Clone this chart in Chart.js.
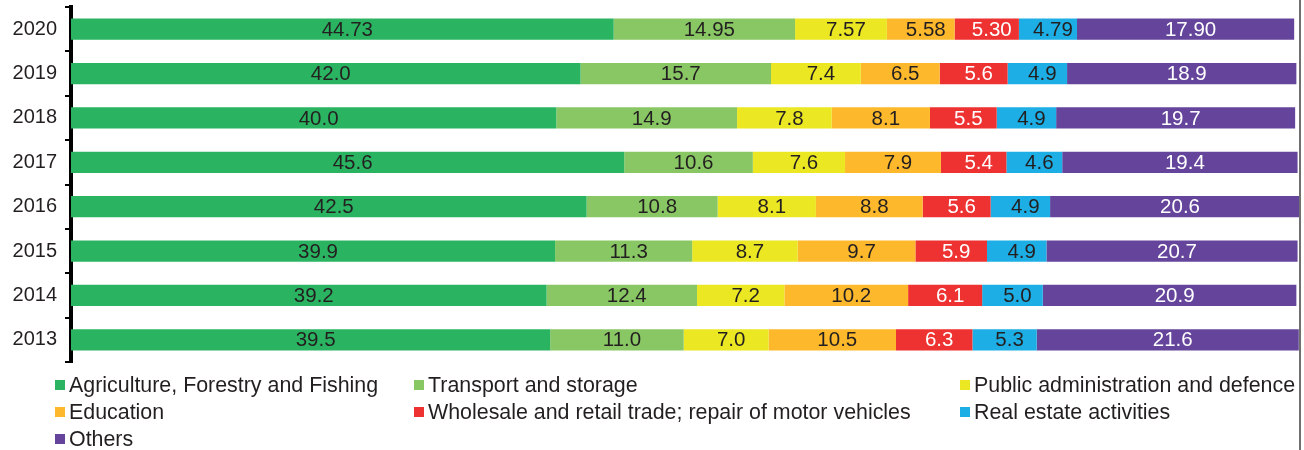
<!DOCTYPE html>
<html>
<head>
<meta charset="utf-8">
<script src="https://cdn.jsdelivr.net/npm/chart.js@4/dist/chart.umd.min.js"></script>
<style>
  html, body { margin: 0; padding: 0; background: #fff; }
  #wrap { position: relative; width: 1304px; height: 450px; overflow: hidden; }
  #c { position: absolute; left: 0; top: 0; }
  #edge { position: absolute; left: 1299px; top: 0; width: 2px; height: 450px; background: #707070; }
  .lg { position: absolute; font-family: "Liberation Sans", Arial, sans-serif; font-size: 21.4px;
        line-height: 27px; color: #231F20; white-space: nowrap; }
  .lg i { position: absolute; left: 0; top: 8.5px; width: 10px; height: 10px; }
  .lg span { position: absolute; left: 14px; top: 0; }
</style>
</head>
<body>
<div id="wrap">
  <canvas id="c" width="1304" height="450"></canvas>
  <div id="edge"></div>
</div>
<script>
// ---- data ----
const years = ["2020", "2019", "2018", "2017", "2016", "2015", "2014", "2013"];
const decimals = [2, 1, 1, 1, 1, 1, 1, 1];
const seriesNames = [
  "Agriculture, Forestry and Fishing",
  "Transport and storage",
  "Public administration and defence",
  "Education",
  "Wholesale and retail trade; repair of motor vehicles",
  "Real estate activities",
  "Others"
];
const agriculture   = [44.73, 42.0, 40.0, 45.6, 42.5, 39.9, 39.2, 39.5];
const transport     = [14.95, 15.7, 14.9, 10.6, 10.8, 11.3, 12.4, 11.0];
const publicAdmin   = [7.57, 7.4, 7.8, 7.6, 8.1, 8.7, 7.2, 7.0];
const education     = [5.58, 6.5, 8.1, 7.9, 8.8, 9.7, 10.2, 10.5];
const wholesale     = [5.30, 5.6, 5.5, 5.4, 5.6, 5.9, 6.1, 6.3];
const realEstate    = [4.79, 4.9, 4.9, 4.6, 4.9, 4.9, 5.0, 5.3];
const others        = [17.90, 18.9, 19.7, 19.4, 20.6, 20.7, 20.9, 21.6];
const seriesValues = [agriculture, transport, publicAdmin, education, wholesale, realEstate, others];
const xMax = 101.3;

// ---- styles ----
const colors = ["#2AB461", "#88C764", "#EBE723", "#FDB92B", "#EE3131", "#1CAEE4", "#65449B"];
const labelColors = ["#231F20", "#231F20", "#231F20", "#231F20", "#FFFFFF", "#231F20", "#FFFFFF"];
const FONT = '"Liberation Sans", Arial, sans-serif';

const valueLabels = {
  id: 'valueLabels',
  afterDatasetsDraw(chart) {
    const ctx = chart.ctx;
    ctx.save();
    ctx.font = '20.5px ' + FONT;
    ctx.textAlign = 'center';
    ctx.textBaseline = 'middle';
    chart.data.datasets.forEach((ds, di) => {
      const meta = chart.getDatasetMeta(di);
      meta.data.forEach((bar, i) => {
        const p = bar.getProps(['x', 'y', 'base'], true);
        ctx.fillStyle = labelColors[di];
        ctx.fillText(ds.data[i].toFixed(decimals[i]), (p.x + p.base) / 2 + 5, p.y + 1);
      });
    });
    ctx.restore();
  }
};

new Chart(document.getElementById('c'), {
  type: 'bar',
  data: {
    labels: years,
    datasets: seriesNames.map((name, k) => ({
      label: name,
      data: seriesValues[k],
      backgroundColor: colors[k],
      borderWidth: 0,
      categoryPercentage: 1,
      barPercentage: 0.48
    }))
  },
  options: {
    indexAxis: 'y',
    responsive: false,
    animation: false,
    events: [],
    layout: { padding: { top: 7, bottom: 88, left: 0, right: 4 } },
    plugins: { legend: { display: false }, tooltip: { enabled: false } },
    scales: {
      x: { stacked: true, display: false, min: 0, max: xMax },
      y: {
        stacked: true,
        grid: { drawOnChartArea: false, drawTicks: true, tickLength: 6, color: '#000', lineWidth: 2, offset: true },
        border: { display: true, color: '#000', width: 4 },
        ticks: { font: { family: FONT, size: 20 }, color: '#231F20', padding: 8 },
        afterFit(s) { s.width = 71; s.paddingTop = 0; s.paddingBottom = 0; }
      }
    }
  },
  plugins: [valueLabels]
});

// ---- legend (3 columns, row-wise) ----
const legendCols = [55, 414, 960];
const legendRowTop = 371.5, legendRowStep = 27;
const wrap = document.getElementById('wrap');
seriesNames.forEach((name, k) => {
  const d = document.createElement('div');
  d.className = 'lg';
  d.style.left = legendCols[k % 3] + 'px';
  d.style.top = (legendRowTop + Math.floor(k / 3) * legendRowStep) + 'px';
  const sw = document.createElement('i');
  sw.style.background = colors[k];
  const t = document.createElement('span');
  t.textContent = name;
  d.appendChild(sw); d.appendChild(t);
  wrap.appendChild(d);
});
</script>
</body>
</html>
